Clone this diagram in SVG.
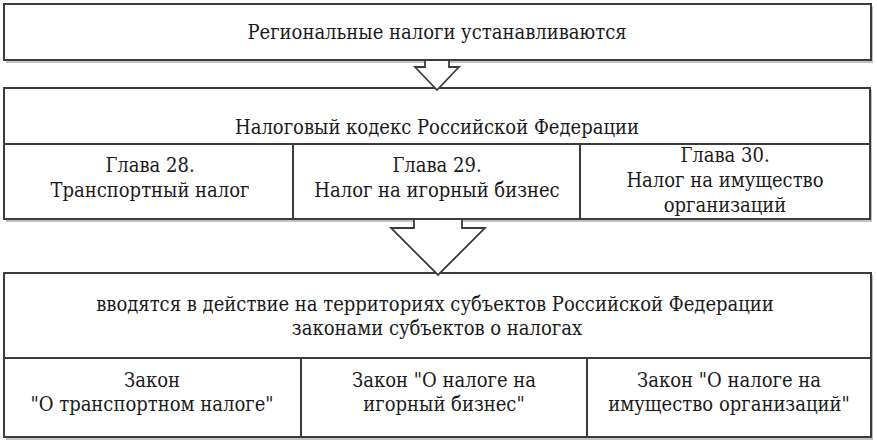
<svg xmlns="http://www.w3.org/2000/svg" width="877" height="448" viewBox="0 0 877 448">
<style>
.box{fill:#ffffff;stroke:#3c3c3c;stroke-width:2}
.sh{fill:#9a9a9a;stroke:none;opacity:0.6}
.ln{stroke:#3c3c3c;stroke-width:2;fill:none}
.arr{fill:#ffffff;stroke:#3c3c3c;stroke-width:1.8;stroke-linejoin:miter}
.t{font-family:'DejaVu Serif Condensed','DejaVu Serif',serif;font-size:20px;fill:#1a1a1a;text-anchor:middle}
</style>
<rect width="877" height="448" fill="#ffffff"/>
<g id="top">
<rect class="sh" x="6" y="6" width="867" height="57"/>
<rect class="box" x="4" y="4" width="867" height="56"/>
<text class="t" x="437" y="39">Региональные налоги устанавливаются</text>
</g>
<g id="nk">
<rect class="sh" x="6" y="90" width="866" height="132"/>
<rect class="box" x="4" y="88" width="866" height="131"/>
<line class="ln" x1="4" y1="144" x2="870" y2="144"/>
<line class="ln" x1="293" y1="144" x2="293" y2="219"/>
<line class="ln" x1="580" y1="144" x2="580" y2="219"/>
<text class="t" x="437" y="134">Налоговый кодекс Российской Федерации</text>
<g id="ch28"><text class="t" x="150" y="172">Глава 28.</text><text class="t" x="150" y="197">Транспортный налог</text></g>
<g id="ch29"><text class="t" x="437" y="172">Глава 29.</text><text class="t" x="437" y="197">Налог на игорный бизнес</text></g>
<g id="ch30"><text class="t" x="725" y="162">Глава 30.</text><text class="t" x="725" y="187">Налог на имущество</text><text class="t" x="725" y="212">организаций</text></g>
</g>
<g id="laws">
<rect class="sh" x="6" y="275" width="867" height="165"/>
<rect class="box" x="4" y="273" width="867" height="164"/>
<line class="ln" x1="4" y1="358" x2="871" y2="358"/>
<line class="ln" x1="301" y1="358" x2="301" y2="437"/>
<line class="ln" x1="587" y1="358" x2="587" y2="437"/>
<text class="t" x="435" y="311">вводятся в действие на территориях субъектов Российской Федерации</text>
<text class="t" x="437" y="335">законами субъектов о налогах</text>
<g id="law1"><text class="t" x="152" y="387">Закон</text><text class="t" x="152" y="411">"О транспортном налоге"</text></g>
<g id="law2"><text class="t" x="444" y="387">Закон "О налоге на</text><text class="t" x="444" y="411">игорный бизнес"</text></g>
<g id="law3"><text class="t" x="729" y="387">Закон "О налоге на</text><text class="t" x="729" y="411">имущество организаций"</text></g>
</g>
<g id="connectors">
<polygon class="arr" points="425,60 449,60 449,67 459,67 437,90 415,67 425,67"/>
<polygon class="arr" points="414,219 462,219 462,228 485,228 438,275 391,228 414,228"/>
</g>
</svg>
